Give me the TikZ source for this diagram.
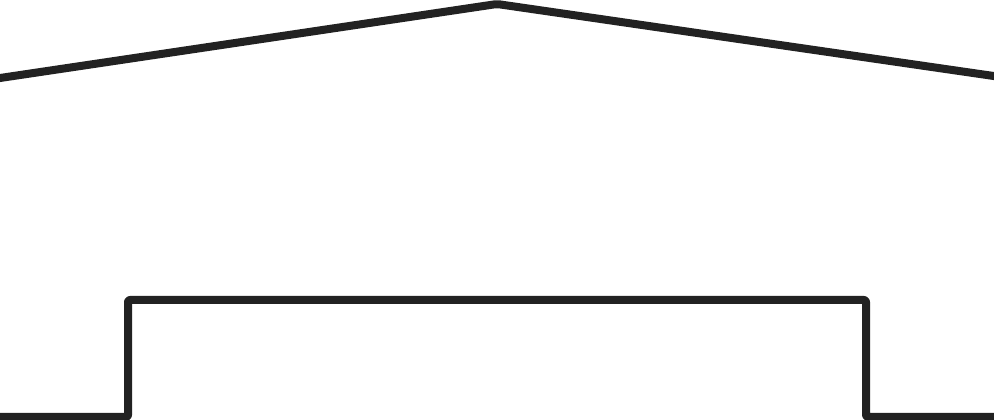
\documentclass[tikz,border=0pt]{standalone}
\usepackage{tikz}
\definecolor{ink}{HTML}{222222}
\tikzstyle{outline} = [draw=ink, line width=8pt, line join=round, rounded corners=2pt]

\begin{document}
\begin{tikzpicture}[x=1pt, y=1pt]
        \useasboundingbox (0,0) rectangle (994,420);
        
        % roof
        \draw[outline] (-10,340.5) -- (497,416) -- (1004,342.5);
        
        % base
        \draw[outline] (-10,3) -- (128,3) -- (128,120) -- (866,120) -- (866,3) -- (1004,3);
    \end{tikzpicture}
\end{document}
